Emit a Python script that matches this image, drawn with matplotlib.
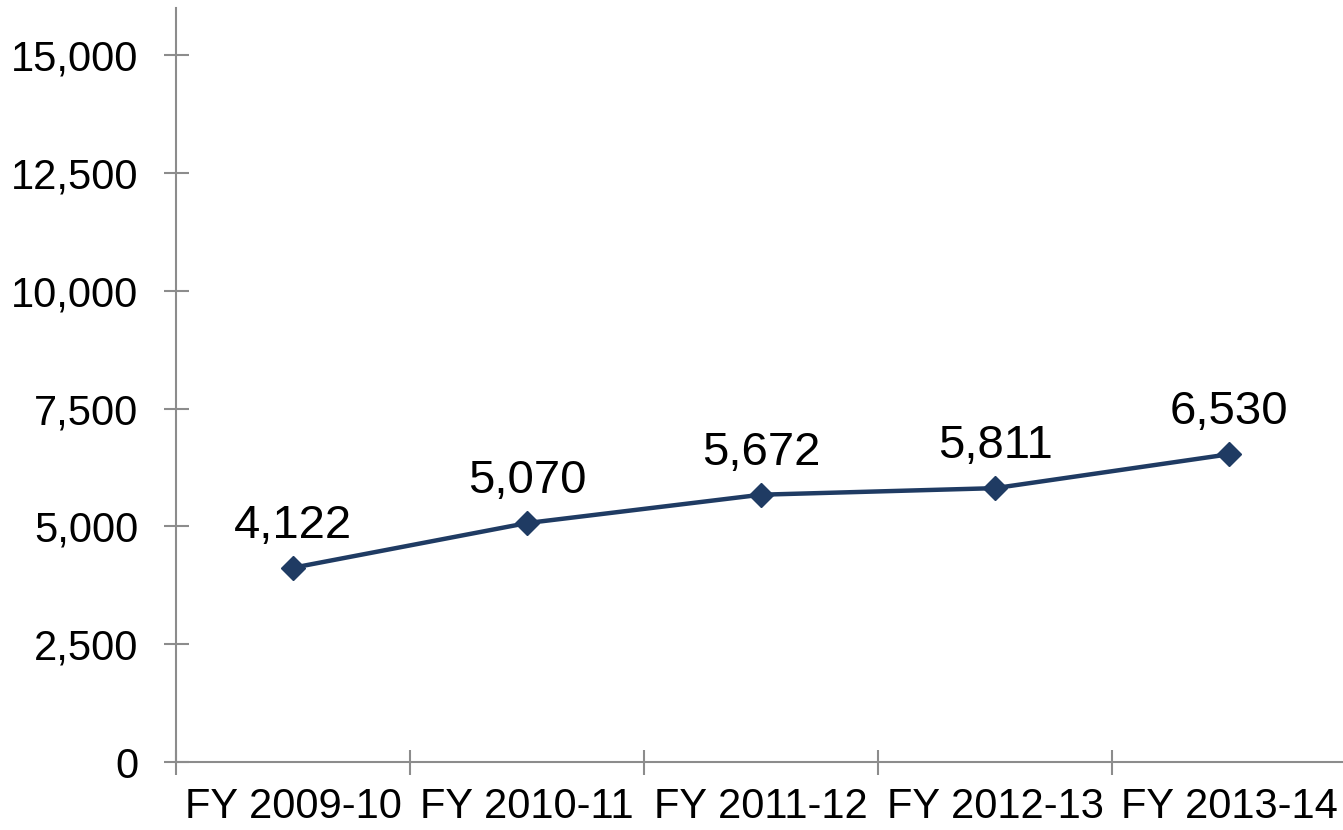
import matplotlib
matplotlib.use("Agg")
import matplotlib.pyplot as plt
from matplotlib.ticker import FuncFormatter

categories = ["FY 2009-10", "FY 2010-11", "FY 2011-12", "FY 2012-13", "FY 2013-14"]
values = [4122, 5070, 5672, 5811, 6530]
yticks = [0, 2500, 5000, 7500, 10000, 12500, 15000]

plt.rcParams['font.family'] = ['Liberation Sans', 'DejaVu Sans']

fig = plt.figure(figsize=(13.43, 8.30), dpi=100)
W, H = 1343, 830
left, right, bottom, top = 176, 1346, 762, 8
ax = fig.add_axes([left / W, 1 - bottom / H, (right - left) / W, (bottom - top) / H])

x = list(range(len(categories)))
color = "#1F3B63"
ax.plot(x, values, color=color, lw=3.2, marker="D", markersize=12.5, zorder=3, clip_on=False)
for xi, v in zip(x, values):
    ax.annotate(f"{v:,}", (xi, v), xytext=(0, 14.5), textcoords="offset points",
                ha="center", va="bottom", fontsize=34, color="black")

ax.set_xlim(-0.5, len(categories) - 0.5)
ax.set_ylim(0, 16000)
ax.set_yticks(yticks)
ax.yaxis.set_major_formatter(FuncFormatter(lambda v, p: f"{int(v):,}"))
ax.set_xticks([i - 0.5 for i in range(len(categories) + 1)])
ax.set_xticklabels([])
ax.set_xticks(x, minor=True)
ax.set_xticklabels(categories, minor=True)
ax.tick_params(axis="x", which="minor", length=0, pad=18, labelsize=30)
ax.tick_params(axis="x", which="major", direction="inout", length=18, width=1.5, color="#8c8c8c")
ax.tick_params(axis="y", direction="inout", length=18, width=1.5, color="#8c8c8c", pad=18, labelsize=30)

for s in ["top", "right"]:
    ax.spines[s].set_visible(False)
for s in ["left", "bottom"]:
    ax.spines[s].set_color("#8c8c8c")
    ax.spines[s].set_linewidth(1.5)

fig.savefig("out.png", dpi=100)
